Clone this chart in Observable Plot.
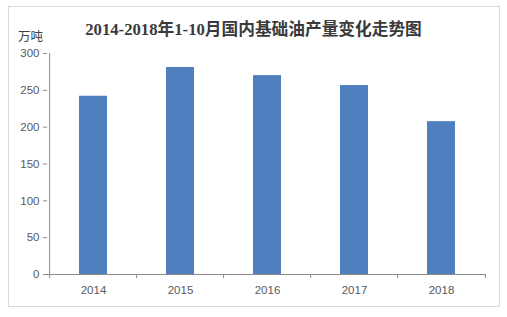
<!DOCTYPE html>
<html>
<head>
<meta charset="utf-8">
<script src="https://cdn.jsdelivr.net/npm/d3@7"></script>
<script src="https://cdn.jsdelivr.net/npm/@observablehq/plot@0.6"></script>
<style>
  html, body { margin: 0; padding: 0; background: #fff; }
  #wrap { position: relative; width: 507px; height: 317px; overflow: hidden; }
  #frame { position: absolute; left: 8px; top: 6px; width: 492px; height: 301px; border: 1px solid #d9d9d9; box-sizing: border-box; }
  #title { position: absolute; left: 0; width: 507px; top: 16px; text-align: center; font-family: "Liberation Serif", "Noto Sans CJK SC", serif; font-size: 16.7px; color: #3a3a3a; font-weight: 600; }
  #unit { position: absolute; left: 18px; top: 26px; font-family: "Noto Sans CJK SC", sans-serif; font-size: 12.5px; color: #404040; }
  #chart { position: absolute; left: 0; top: 0; }
</style>
</head>
<body>
<div id="wrap">
  <div id="frame"></div>
  <div id="chart"></div>
  <div id="title">2014-2018年1-10月国内基础油产量变化走势图</div>
  <div id="unit">万吨</div>
</div>
<script>
const years = ["2014", "2015", "2016", "2017", "2018"];
const output = [242, 281, 270, 256.5, 207.5];
const yTicks = [0, 50, 100, 150, 200, 250, 300];

const data = years.map((year, i) => ({year, value: output[i]}));

const W = 507, H = 317;
const mL = 47, mR = 21, mT = 53, mB = 43;
const step = (W - mL - mR) / years.length;
const axisColor = "#8c8c8c";

const chart = Plot.plot({
  width: W,
  height: H,
  marginLeft: mL,
  marginRight: mR,
  marginTop: mT,
  marginBottom: mB,
  style: {fontFamily: "Liberation Sans, Arial, sans-serif", fontSize: "11.5px", color: "#595959", background: "transparent"},
  x: {domain: years, paddingInner: 0.68, paddingOuter: 0.34, label: null},
  y: {domain: [0, 300], label: null},
  marks: [
    Plot.barY(data, {x: "year", y: "value", fill: "#4f7fbf"}),
    Plot.ruleY([0], {stroke: axisColor}),
    Plot.axisY({ticks: yTicks, tickSize: 4, tickPadding: 4, stroke: axisColor, fill: "#595959", fontSize: 11.5}),
    // y axis line
    Plot.ruleX([years[0]], {x: d => d, y1: 0, y2: 300, dx: -step / 2, stroke: axisColor}),
    // x boundary ticks
    Plot.ruleX(years, {x: d => d, y1: 0, y2: 0, insetBottom: -4, dx: -step / 2, stroke: axisColor}),
    Plot.ruleX([years[years.length - 1]], {x: d => d, y1: 0, y2: 0, insetBottom: -4, dx: step / 2, stroke: axisColor}),
    Plot.axisX({tickSize: 0, tickPadding: 11, fill: "#595959", fontSize: 11.5})
  ]
});
document.getElementById("chart").appendChild(chart);
</script>
</body>
</html>
